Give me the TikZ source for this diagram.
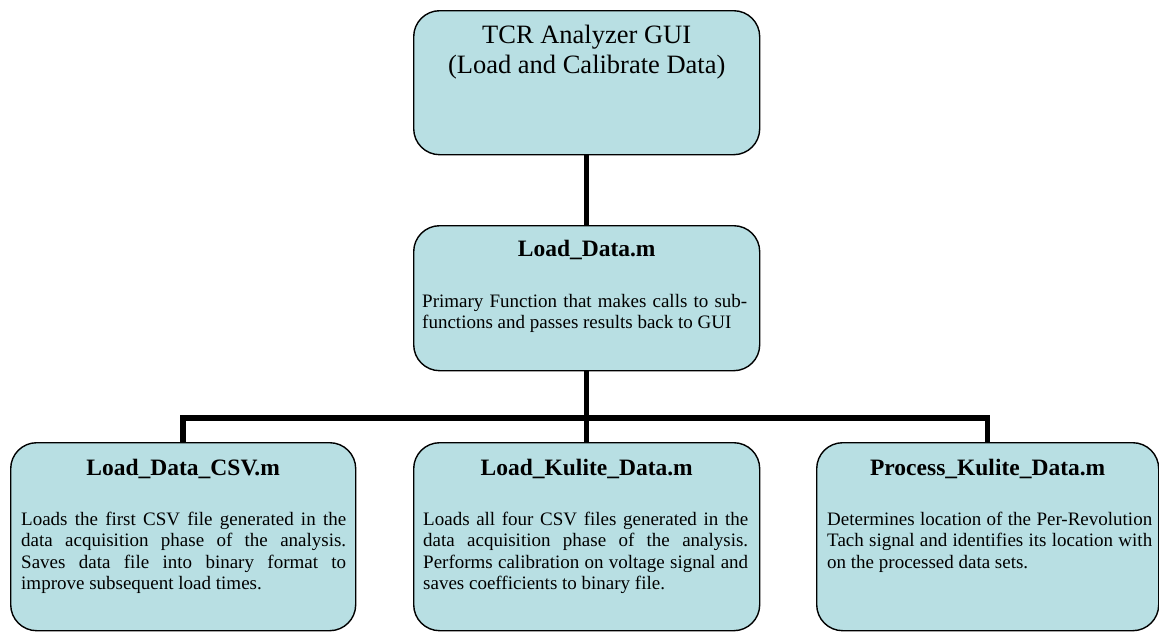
\documentclass[tikz,border=0pt]{standalone}
\usepackage{fontspec}
\setmainfont{Liberation Serif}
\definecolor{boxfill}{RGB}{184,223,227}
\begin{document}
\begin{tikzpicture}[x=1pt,y=-1pt,
  box/.style={draw=black, line width=1.4pt, fill=boxfill, rounded corners=26pt, inner sep=0pt, anchor=north west, minimum height=188pt},
  conn/.style={line width=5.5pt, black},
  titletext/.style={font=\fontsize{23.5}{26}\selectfont\bfseries, anchor=base, inner sep=0pt},
  bodytext/.style={font=\fontsize{19}{21.3}\selectfont, text width=325pt, align=justify, anchor=north west, inner sep=0pt},
]
\useasboundingbox (0,0) rectangle (1159,632);

% boxes
\node[box, minimum width=346pt, minimum height=144pt] (gui) at (413,10) {};
\node[box, minimum width=346pt, minimum height=145pt] (mid) at (413,225) {};
\node[box, minimum width=345pt] (csv) at (10,442) {};
\node[box, minimum width=346pt] (kul) at (413,442) {};
\node[box, minimum width=342pt] (proc) at (816,442) {};

% connectors
\draw[conn] (gui.south) -- (mid.north);
\draw[conn] (mid.south) -- (kul.north);
\draw[conn] (csv.north) -- ++(0,-24) coordinate (bar) -| (proc.north);

% texts
\node[font=\fontsize{26.5}{30}\selectfont, align=center, anchor=north, inner sep=0pt] (guit) at ([yshift=-15pt]gui.north) {TCR Analyzer GUI\\(Load and Calibrate Data)};

\node[titletext] (midt) at ([yshift=-31pt]mid.north) {Load\_Data.m};
\node[bodytext] (midb) at (422,294) {\hyphenpenalty=10000 Primary Function that makes calls to sub-\linebreak functions and passes results back to GUI};

\node[titletext] (csvt) at ([yshift=-33pt]csv.north) {Load\_Data\_CSV.m};
\node[bodytext] (csvb) at (21,512) {\hyphenpenalty=10000 Loads the first CSV file generated in the\linebreak data acquisition phase of the analysis.\linebreak Saves data file into binary format to\linebreak improve subsequent load times.};

\node[titletext] (kult) at ([yshift=-33pt]kul.north) {Load\_Kulite\_Data.m};
\node[bodytext] (kulb) at (423,512) {\hyphenpenalty=10000 Loads all four CSV files generated in the\linebreak data acquisition phase of the analysis.\linebreak Performs calibration on voltage signal and\linebreak saves coefficients to binary file.};

\node[titletext] (proct) at ([yshift=-33pt]proc.north) {Process\_Kulite\_Data.m};
\node[bodytext] (procb) at (827,512) {\hyphenpenalty=10000 Determines location of the Per-Revolution\linebreak Tach signal and identifies its location with\linebreak on the processed data sets.};
\end{tikzpicture}
\end{document}
